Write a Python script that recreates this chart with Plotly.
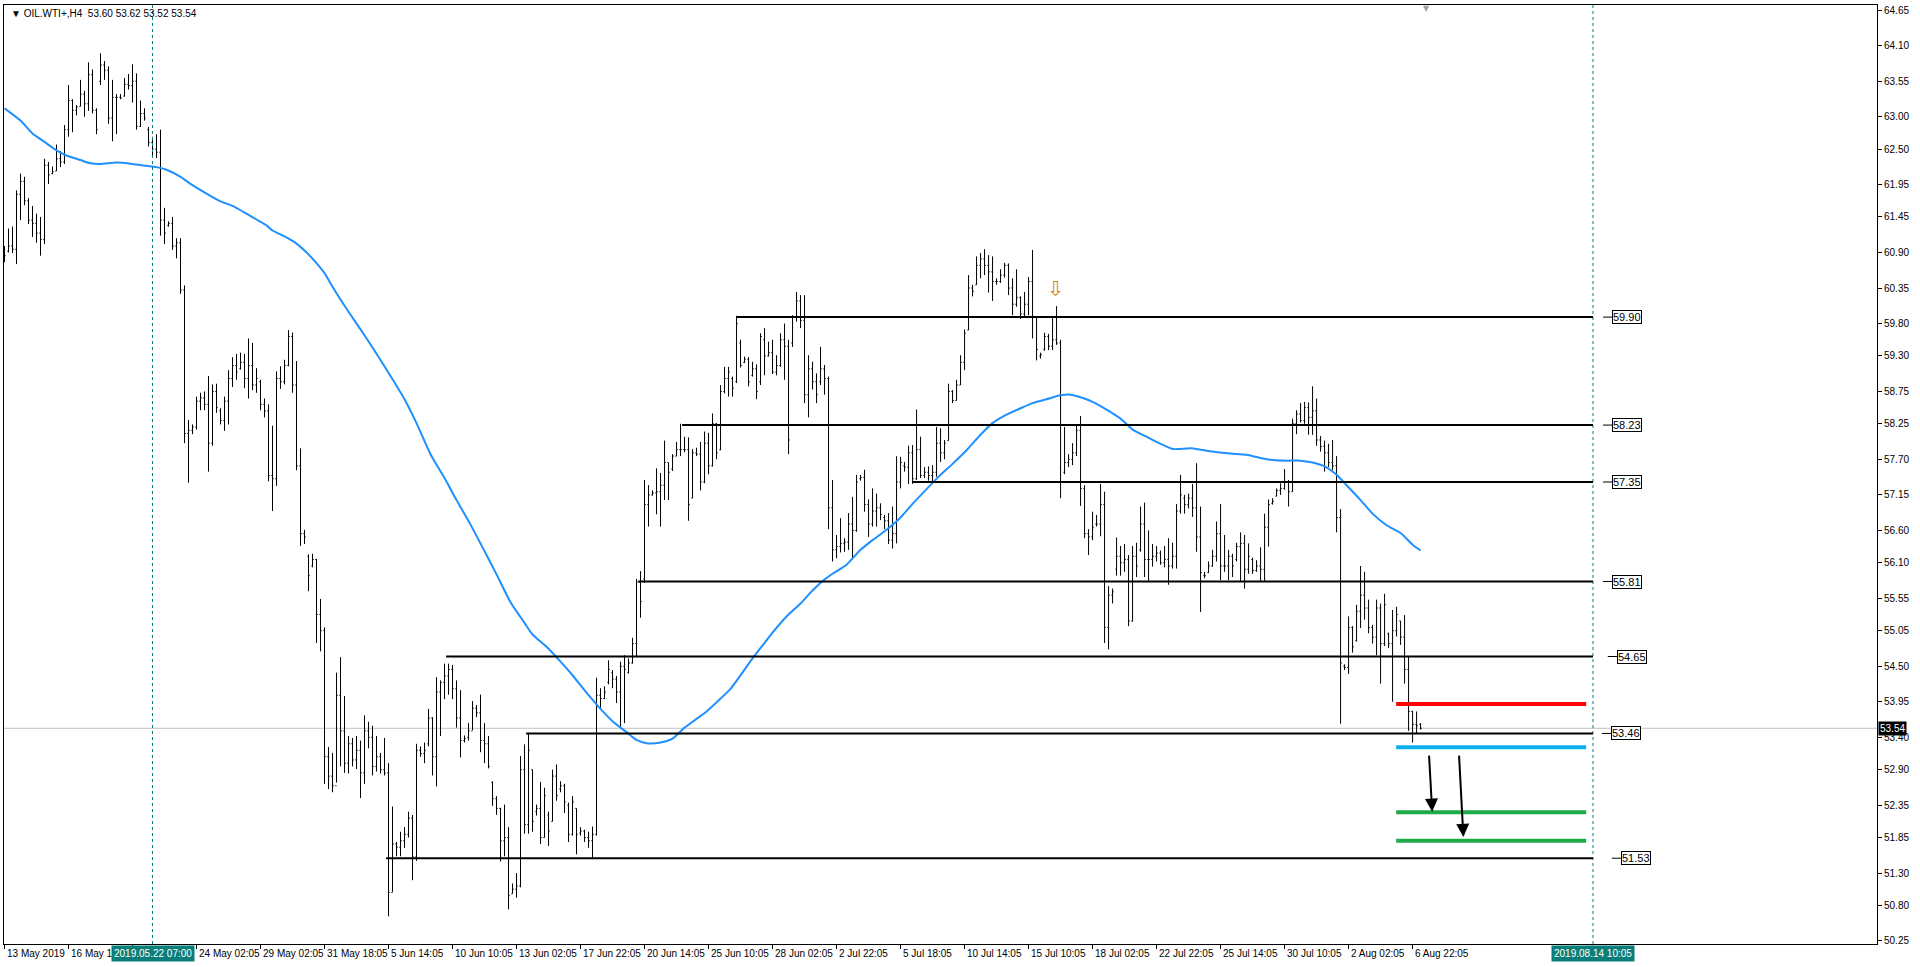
import plotly.graph_objects as go

# ---------------- data ----------------
bar_high = [
    61.00, 61.27, 61.30, 61.86, 62.12, 62.07, 61.74, 61.62, 61.50, 61.45,
    62.35, 62.30, 62.23, 62.57, 62.47, 62.87, 63.49, 63.27, 63.18, 63.57,
    63.40, 63.84, 63.73, 63.13, 63.98, 63.86, 63.78, 63.57, 63.35, 63.35,
    63.60, 63.66, 63.81, 63.67, 63.25, 63.13, 62.84, 62.69, 62.73, 62.80,
    61.59, 61.38, 61.45, 61.12, 61.12, 60.39, 58.31, 58.24, 58.67, 58.73,
    58.75, 58.99, 58.86, 58.87, 58.49, 58.67, 59.08, 59.28, 59.33, 59.35,
    59.33, 59.57, 59.50, 59.11, 58.93, 58.64, 58.55, 58.22, 59.06, 59.14,
    59.24, 59.70, 59.66, 59.22, 57.87, 56.61, 56.23, 56.24, 56.16, 55.54,
    55.10, 53.25, 53.16, 54.40, 54.64, 54.04, 53.42, 53.39, 53.42, 53.35,
    53.74, 53.64, 53.58, 53.42, 53.16, 53.39, 53.00, 52.33, 51.78, 51.94,
    52.01, 52.25, 52.20, 53.30, 53.26, 53.32, 53.84, 53.71, 54.33, 54.28,
    54.54, 54.54, 54.52, 54.28, 54.13, 53.43, 53.62, 53.96, 53.90, 54.06,
    53.62, 53.42, 52.72, 52.49, 52.31, 52.36, 52.01, 51.14, 51.30, 53.11,
    53.29, 53.47, 52.90, 52.36, 52.71, 52.62, 52.25, 52.90, 52.98, 52.72,
    52.68, 52.39, 52.49, 52.30, 52.01, 51.97, 51.94, 52.02, 54.32, 54.16,
    54.19, 54.59, 54.44, 54.35, 54.57, 54.67, 54.62, 54.94, 55.85, 55.97,
    57.38, 57.30, 57.22, 57.56, 57.49, 57.99, 57.65, 57.78, 57.97, 58.25,
    58.05, 58.04, 57.86, 57.88, 57.97, 58.13, 58.11, 58.41, 58.26, 58.85,
    59.13, 59.13, 58.98, 59.92, 59.55, 59.29, 59.28, 59.21, 59.17, 59.65,
    59.73, 59.52, 59.55, 59.31, 59.65, 59.80, 59.55, 59.93, 60.29, 60.24,
    60.24, 59.31, 59.21, 59.03, 59.44, 59.16, 58.98, 57.38, 56.53, 56.79,
    56.48, 56.87, 57.12, 57.46, 57.46, 57.54, 57.08, 57.25, 57.17, 57.02,
    56.84, 56.87, 56.97, 57.75, 57.74, 57.66, 57.91, 57.92, 58.47, 58.05,
    57.58, 57.59, 57.61, 58.20, 58.18, 58.00, 58.87, 58.77, 58.93, 59.31,
    59.71, 60.55, 60.40, 60.84, 60.89, 60.95, 60.86, 60.84, 60.50, 60.64,
    60.74, 60.73, 60.50, 60.64, 60.22, 60.29, 60.52, 60.94, 59.90, 59.35,
    59.66, 59.64, 59.90, 60.07, 59.55, 58.20, 57.78, 57.95, 58.23, 58.37,
    57.30, 56.62, 56.89, 56.84, 57.32, 57.20, 55.74, 55.70, 56.49, 56.36,
    56.39, 56.22, 56.36, 56.41, 56.97, 57.03, 56.60, 56.39, 56.36, 56.29,
    56.36, 56.48, 56.41, 57.01, 57.46, 57.15, 57.17, 57.32, 57.64, 56.97,
    55.96, 56.12, 56.30, 56.74, 57.01, 56.53, 56.30, 56.24, 56.41, 56.57,
    56.53, 56.40, 56.18, 56.14, 56.34, 56.86, 57.08, 57.10, 57.25, 57.33,
    57.55, 57.38, 58.33, 58.46, 58.57, 58.59, 58.58, 58.83, 58.64, 58.06,
    57.99, 57.94, 58.00, 57.75, 56.93, 54.53, 55.27, 55.12, 55.45, 56.05,
    55.96, 55.53, 55.14, 55.53, 55.47, 55.62, 55.02, 55.37, 55.42, 55.20,
    55.29, 54.65, 53.81, 53.80, 53.62,
]
bar_low = [
    60.75, 60.90, 60.89, 60.72, 61.40, 61.63, 61.34, 61.14, 61.05, 60.85,
    61.03, 61.96, 62.11, 62.16, 62.22, 62.27, 62.69, 62.76, 63.02, 63.16,
    63.00, 63.09, 63.05, 62.73, 63.49, 63.57, 62.89, 62.62, 62.73, 63.27,
    63.31, 63.42, 63.22, 62.80, 62.84, 62.94, 62.54, 62.40, 62.36, 61.16,
    61.03, 61.30, 60.94, 60.81, 60.26, 57.95, 57.34, 58.09, 58.16, 58.46,
    58.46, 57.51, 57.91, 58.42, 58.24, 58.14, 58.24, 58.82, 58.93, 59.09,
    58.80, 58.64, 58.77, 58.73, 58.46, 58.35, 57.36, 56.90, 57.29, 58.79,
    58.86, 59.14, 58.73, 57.53, 56.36, 56.39, 55.66, 56.03, 54.86, 54.73,
    52.68, 52.60, 52.55, 52.70, 52.95, 52.85, 52.84, 52.95, 52.91, 52.46,
    52.68, 53.23, 52.81, 52.87, 52.84, 52.81, 50.63, 51.01, 51.56, 51.56,
    51.69, 51.85, 51.19, 51.49, 53.10, 53.00, 53.26, 52.81, 52.64, 53.42,
    53.99, 54.06, 53.99, 53.55, 53.09, 53.32, 53.35, 53.51, 53.71, 53.17,
    53.00, 52.92, 52.34, 52.20, 51.48, 51.56, 50.74, 50.98, 50.92, 51.08,
    51.91, 51.91, 51.94, 52.19, 51.75, 51.85, 51.72, 52.10, 52.42, 52.55,
    52.23, 51.78, 51.88, 51.59, 51.88, 51.78, 51.69, 51.53, 51.88, 53.84,
    53.99, 54.22, 54.16, 53.93, 53.56, 53.62, 54.39, 54.54, 54.64, 55.25,
    55.79, 56.66, 57.14, 56.85, 56.66, 57.07, 57.07, 57.52, 57.75, 57.75,
    57.81, 56.75, 57.10, 57.75, 57.22, 57.33, 57.47, 57.59, 57.70, 57.84,
    58.72, 58.67, 58.67, 58.88, 59.12, 59.19, 58.83, 58.98, 58.63, 58.85,
    59.00, 59.29, 59.02, 59.00, 59.13, 58.93, 57.78, 59.44, 59.83, 59.73,
    58.57, 58.35, 58.78, 58.57, 58.85, 58.70, 56.62, 56.12, 56.17, 56.26,
    56.27, 56.30, 56.17, 56.58, 57.37, 56.89, 56.50, 56.66, 56.66, 56.76,
    56.62, 56.39, 56.32, 56.40, 57.25, 57.51, 57.32, 57.32, 57.38, 57.41,
    57.41, 57.37, 57.35, 57.43, 57.66, 57.70, 57.99, 58.57, 58.61, 58.85,
    59.08, 59.70, 60.22, 60.40, 60.50, 60.55, 60.28, 60.15, 60.40, 60.43,
    60.51, 60.24, 59.93, 60.06, 59.87, 59.90, 59.93, 59.57, 59.23, 59.26,
    59.38, 59.39, 59.39, 59.47, 57.10, 57.47, 57.58, 57.61, 57.75, 56.98,
    56.48, 56.22, 56.45, 56.66, 56.51, 54.86, 54.76, 55.47, 55.90, 55.90,
    55.96, 55.12, 55.19, 55.88, 56.27, 55.88, 55.82, 56.04, 56.12, 56.07,
    56.03, 55.76, 56.01, 56.01, 56.86, 56.86, 56.94, 56.81, 56.27, 55.34,
    55.86, 55.94, 56.04, 56.12, 55.83, 55.96, 55.83, 55.88, 56.12, 55.82,
    55.70, 55.93, 55.93, 55.96, 55.82, 55.82, 56.35, 57.00, 57.13, 57.15,
    57.23, 56.97, 57.20, 58.09, 58.27, 58.25, 58.08, 58.08, 57.91, 57.82,
    57.51, 57.58, 57.53, 56.57, 53.61, 54.44, 54.38, 54.71, 54.88, 55.09,
    55.22, 55.01, 54.85, 54.67, 54.23, 54.81, 54.78, 53.95, 54.96, 54.83,
    54.23, 53.50, 53.32, 53.45, 53.52,
]
bar_open = [
    60.80, 60.92, 61.00, 60.95, 61.80, 62.00, 61.70, 61.40, 61.35, 61.20,
    61.10, 62.25, 62.12, 62.16, 62.35, 62.30, 62.80, 63.25, 63.10, 63.16,
    63.35, 63.20, 63.65, 63.10, 63.55, 63.80, 63.72, 62.98, 63.30, 63.30,
    63.32, 63.50, 63.48, 63.55, 62.85, 63.05, 62.80, 62.60, 62.50, 62.45,
    61.40, 61.32, 61.35, 61.00, 61.05, 60.32, 58.10, 58.15, 58.20, 58.60,
    58.65, 58.55, 57.95, 58.75, 58.45, 58.30, 58.60, 58.95, 59.15, 59.10,
    59.20, 58.95, 59.15, 58.85, 58.90, 58.55, 58.45, 57.45, 57.40, 58.95,
    58.90, 59.15, 59.60, 58.85, 57.60, 56.55, 56.20, 56.05, 56.15, 55.30,
    55.05, 53.10, 52.80, 52.65, 54.05, 53.50, 53.00, 53.30, 53.05, 53.20,
    52.85, 53.50, 53.40, 52.95, 53.10, 52.90, 52.85, 51.00, 51.75, 51.70,
    51.80, 51.90, 52.15, 51.55, 53.20, 53.15, 53.30, 53.70, 53.10, 54.10,
    54.25, 54.35, 54.45, 54.15, 53.70, 53.35, 53.40, 53.50, 53.85, 53.78,
    53.35, 53.30, 52.70, 52.45, 52.30, 51.80, 51.85, 50.98, 51.05, 51.10,
    52.90, 52.05, 52.90, 52.25, 52.30, 51.85, 52.20, 52.10, 52.80, 52.60,
    52.65, 52.35, 51.90, 52.30, 51.92, 51.95, 51.85, 51.80, 51.90, 54.05,
    54.00, 54.25, 54.40, 54.30, 54.10, 54.50, 54.40, 54.55, 54.85, 55.80,
    55.85, 57.00, 57.15, 57.18, 57.20, 57.30, 57.65, 57.55, 57.75, 57.85,
    57.85, 57.85, 57.10, 57.80, 57.78, 57.35, 57.95, 57.60, 58.25, 57.85,
    58.75, 58.95, 58.95, 58.90, 59.50, 59.20, 59.25, 59.00, 59.10, 58.90,
    59.55, 59.30, 59.35, 59.05, 59.15, 59.55, 59.45, 59.50, 59.90, 60.15,
    59.85, 58.70, 59.10, 58.90, 58.90, 59.10, 58.95, 56.95, 56.30, 56.35,
    56.40, 56.42, 56.70, 56.60, 57.40, 57.42, 57.00, 56.70, 56.90, 56.95,
    56.80, 56.75, 56.45, 56.55, 57.35, 57.60, 57.58, 57.80, 57.40, 57.85,
    57.45, 57.50, 57.45, 57.50, 57.95, 57.80, 57.99, 58.75, 58.61, 58.85,
    59.20, 59.70, 60.35, 60.40, 60.70, 60.80, 60.70, 60.60, 60.45, 60.45,
    60.55, 60.70, 60.35, 60.10, 60.20, 59.95, 60.10, 60.45, 59.90, 59.30,
    59.40, 59.60, 59.45, 59.55, 59.50, 57.50, 57.65, 57.70, 57.80, 58.15,
    57.25, 56.55, 56.50, 56.70, 56.70, 57.00, 55.10, 55.60, 56.00, 56.20,
    56.10, 56.15, 55.20, 56.20, 56.30, 56.70, 56.15, 56.15, 56.20, 56.25,
    56.10, 56.15, 56.05, 56.20, 56.90, 57.10, 57.00, 57.10, 56.95, 56.50,
    55.90, 55.95, 56.05, 56.20, 56.55, 56.05, 56.05, 56.20, 56.15, 56.35,
    56.40, 56.00, 56.15, 55.98, 56.05, 56.00, 56.65, 57.02, 57.13, 57.22,
    57.25, 57.35, 57.20, 58.25, 58.40, 58.30, 58.50, 58.35, 58.45, 58.00,
    57.90, 57.80, 57.65, 57.60, 56.80, 54.50, 54.48, 55.10, 54.90, 55.35,
    55.60, 55.40, 55.10, 54.95, 55.40, 54.85, 55.00, 54.85, 55.05, 55.20,
    54.95, 54.45, 53.80, 53.60, 53.60,
]
bar_close = [
    60.85, 61.00, 60.95, 61.80, 62.00, 61.70, 61.40, 61.35, 61.20, 61.10,
    62.25, 62.10, 62.15, 62.35, 62.30, 62.80, 63.25, 63.10, 63.15, 63.35,
    63.20, 63.65, 63.10, 62.80, 63.80, 63.72, 62.98, 63.30, 63.30, 63.29,
    63.50, 63.48, 63.55, 62.85, 63.05, 62.98, 62.60, 62.50, 62.45, 61.40,
    61.20, 61.35, 61.00, 61.05, 60.32, 58.10, 58.15, 58.20, 58.60, 58.65,
    58.55, 57.95, 58.75, 58.50, 58.30, 58.60, 58.95, 59.15, 59.05, 59.20,
    58.95, 59.15, 58.85, 58.95, 58.55, 58.45, 57.45, 57.40, 58.95, 58.90,
    59.15, 59.60, 58.85, 57.60, 56.55, 56.50, 55.90, 56.15, 55.30, 55.05,
    53.10, 52.80, 52.65, 54.05, 53.50, 53.00, 53.30, 53.05, 53.20, 52.85,
    53.50, 53.40, 52.95, 53.10, 52.90, 52.85, 51.00, 51.75, 51.70, 51.80,
    51.90, 52.15, 51.55, 53.20, 53.15, 53.20, 53.70, 53.10, 54.10, 54.25,
    54.35, 54.45, 54.15, 53.70, 53.35, 53.38, 53.50, 53.85, 53.78, 53.35,
    53.30, 52.95, 52.45, 52.30, 51.80, 51.85, 50.95, 51.05, 51.10, 52.90,
    52.05, 53.20, 52.10, 52.30, 51.85, 52.50, 51.95, 52.80, 52.50, 52.65,
    52.40, 51.90, 52.40, 51.90, 51.95, 51.85, 51.80, 51.90, 54.05, 54.00,
    54.10, 54.45, 54.30, 54.10, 54.50, 54.45, 54.55, 54.85, 55.80, 55.50,
    57.00, 57.15, 57.18, 57.20, 57.30, 57.65, 57.50, 57.75, 57.85, 57.85,
    57.85, 57.00, 57.80, 57.78, 57.35, 57.95, 57.60, 58.25, 57.80, 58.75,
    58.95, 59.05, 58.80, 59.80, 59.15, 59.25, 58.90, 59.10, 58.75, 59.60,
    59.30, 59.35, 59.05, 59.15, 59.55, 59.45, 58.00, 59.90, 60.15, 59.85,
    58.70, 59.10, 58.90, 58.70, 59.10, 58.95, 56.95, 56.30, 56.35, 56.40,
    56.42, 56.70, 56.60, 57.35, 57.42, 57.00, 56.70, 56.90, 56.95, 56.85,
    56.75, 56.45, 56.55, 57.35, 57.65, 57.58, 57.80, 57.40, 57.85, 57.45,
    57.50, 57.45, 57.50, 57.95, 57.80, 57.95, 58.75, 58.61, 58.85, 59.20,
    59.65, 60.35, 60.30, 60.70, 60.80, 60.70, 60.60, 60.45, 60.45, 60.55,
    60.70, 60.35, 60.10, 60.20, 59.95, 60.10, 60.45, 59.90, 59.40, 59.32,
    59.60, 59.45, 59.55, 59.50, 57.35, 57.65, 57.70, 57.80, 58.15, 57.25,
    56.55, 56.50, 56.65, 56.70, 57.00, 55.10, 55.60, 55.65, 56.20, 56.10,
    56.15, 55.20, 56.20, 56.05, 56.70, 56.15, 56.15, 56.20, 56.25, 56.10,
    56.15, 56.05, 56.20, 56.90, 57.15, 57.00, 57.10, 56.95, 56.50, 55.95,
    55.90, 56.05, 56.20, 56.55, 56.05, 56.05, 56.20, 56.05, 56.35, 56.40,
    56.00, 56.20, 55.98, 56.05, 56.00, 56.65, 57.00, 57.05, 57.22, 57.25,
    57.35, 57.20, 58.25, 58.40, 58.30, 58.50, 58.35, 58.45, 58.00, 57.90,
    57.80, 57.65, 57.60, 56.80, 54.55, 54.48, 55.10, 54.80, 55.35, 55.60,
    55.40, 55.10, 54.95, 55.40, 54.85, 55.45, 54.85, 55.05, 55.30, 54.95,
    54.45, 53.80, 53.60, 53.58, 53.54,
]
bar_index = list(range(len(bar_close)))

ma_index = [0, 4, 7, 10, 13, 15.5, 19, 21.5, 24, 28, 32, 35.5, 38, 40.5, 44, 46.5,
            50.5, 54, 57, 60.5, 63, 65.5, 67, 70, 72.5, 75, 77.5, 80, 82, 85.5, 89,
            92, 96.5, 100, 103, 106.5, 110, 113, 116.5, 120, 123, 126.5, 130, 132,
            135.5, 139, 142, 145.5, 149, 152, 155.5, 158, 160.5, 164, 167, 170, 172,
            175.5, 179, 181.5, 187, 190, 192, 195.5, 199, 202, 205, 207, 210.5, 214,
            217, 220.5, 224, 227, 230.5, 234, 237, 240.5, 244, 247, 250.5, 254, 257,
            260.5, 264, 266.5, 269, 272, 275.5, 279, 282, 285.5, 289, 292, 296.5,
            299, 302, 306.5, 310.5, 314, 317, 320.5, 324, 327, 330, 333, 335.5, 339,
            342, 345.5, 349, 352, 354]
ma_value = [63.13, 62.94, 62.74, 62.61, 62.48, 62.40, 62.33, 62.28, 62.27, 62.29,
            62.27, 62.24, 62.22, 62.18, 62.07, 61.96, 61.81, 61.69, 61.62, 61.50,
            61.41, 61.32, 61.24, 61.15, 61.06, 60.93, 60.77, 60.58, 60.37, 60.03,
            59.71, 59.43, 58.99, 58.63, 58.26, 57.78, 57.41, 57.07, 56.69, 56.28,
            55.92, 55.49, 55.17, 54.99, 54.80, 54.57, 54.36, 54.09, 53.84, 53.65,
            53.48, 53.36, 53.31, 53.32, 53.38, 53.55, 53.64, 53.80, 54.00, 54.15,
            54.62, 54.86, 55.02, 55.27, 55.47, 55.67, 55.84, 55.93, 56.07, 56.30,
            56.45, 56.61, 56.80, 57.01, 57.24, 57.46, 57.63, 57.84, 58.08, 58.26,
            58.39, 58.49, 58.57, 58.63, 58.69, 58.70, 58.66, 58.59, 58.47, 58.33,
            58.16, 58.05, 57.94, 57.86, 57.87, 57.85, 57.82, 57.79, 57.77, 57.72,
            57.69, 57.68, 57.68, 57.65, 57.59, 57.46, 57.30, 57.07, 56.86, 56.68,
            56.56, 56.38, 56.29]

level_values = [59.90, 58.23, 57.35, 55.81, 54.65, 53.46, 51.53]
level_start = [183, 169.4, 227, 158.4, 110.4, 130.4, 95.4]
level_label_x = [401.9, 401.9, 401.9, 401.9, 403.1, 401.6, 404.1]

zone_values = [53.915, 53.246, 52.24, 51.80]
zone_colors = ["#FF0000", "#0FB0EE", "#1FAA48", "#1FAA48"]
zone_start, zone_end = 347.9, 395.4

arrow_tail_x = [356.1, 363.6]
arrow_tail_y = [53.14, 53.14]
arrow_head_x = [356.9, 364.7]
arrow_head_y = [52.25, 51.86]

marker_lines = [37.0, 397.1]
marker_texts = ["2019.05.22 07:00", "2019.08.14 10:05"]

x_tick_idx = [0, 16, 32, 48, 64, 80, 96, 112, 128, 144, 160, 176, 192, 208, 224,
              240, 256, 272, 288, 304, 320, 336, 352]
# the label at index 32 is hidden behind the highlighted date box in the reference
x_tick_text = ["13 May 2019", "16 May 14", "", "24 May 02:05",
               "29 May 02:05", "31 May 18:05", "5 Jun 14:05", "10 Jun 10:05",
               "13 Jun 02:05", "17 Jun 22:05", "20 Jun 14:05", "25 Jun 10:05",
               "28 Jun 02:05", "2 Jul 22:05", "5 Jul 18:05", "10 Jul 14:05",
               "15 Jul 10:05", "18 Jul 02:05", "22 Jul 22:05", "25 Jul 14:05",
               "30 Jul 10:05", "2 Aug 02:05", "6 Aug 22:05"]

y_tick_vals = [64.65, 64.10, 63.55, 63.00, 62.50, 61.95, 61.45, 60.90, 60.35, 59.80,
               59.30, 58.75, 58.25, 57.70, 57.15, 56.60, 56.10, 55.55, 55.05, 54.50,
               53.95, 53.40, 52.90, 52.35, 51.85, 51.30, 50.80, 50.25]
y_tick_text = ["%.2f" % v for v in y_tick_vals]

current_price = 53.54
header_text = "▼\u00a0OIL.WTI+,H4\u00a0\u00a053.60\u00a053.62\u00a053.52\u00a053.54"

FONT = "Liberation Sans"
TEAL = "#0A7F7A"

# ---------------- figure ----------------
fig = go.Figure()

fig.add_trace(go.Ohlc(
    x=bar_index, open=bar_open, high=bar_high, low=bar_low, close=bar_close,
    increasing=dict(line=dict(color="black", width=1)),
    decreasing=dict(line=dict(color="black", width=1)),
    tickwidth=0.3, hoverinfo="skip", showlegend=False,
))

fig.add_trace(go.Scatter(
    x=ma_index, y=ma_value, mode="lines",
    line=dict(color="#1E90FF", width=2, shape="spline", smoothing=0.6),
    hoverinfo="skip", showlegend=False,
))

shapes = []
shapes.append(dict(type="line", xref="paper", yref="y", x0=0, x1=1,
                   y0=current_price, y1=current_price,
                   line=dict(color="#C0C0C0", width=1), layer="below"))
for mx in marker_lines:
    shapes.append(dict(type="line", xref="x", yref="paper", x0=mx, x1=mx, y0=0, y1=1,
                       line=dict(color=TEAL, width=1, dash="3px,3px")))
for v, s in zip(level_values, level_start):
    shapes.append(dict(type="line", xref="x", yref="y", x0=s, x1=marker_lines[1],
                       y0=v, y1=v, line=dict(color="black", width=2)))
for v, c in zip(zone_values, zone_colors):
    shapes.append(dict(type="line", xref="x", yref="y", x0=zone_start, x1=zone_end,
                       y0=v, y1=v, line=dict(color=c, width=4)))
for v, lx in zip(level_values, level_label_x):
    shapes.append(dict(type="line", xref="x", yref="y", x0=lx - 2.3, x1=lx,
                       y0=v, y1=v, line=dict(color="black", width=1)))

annotations = []
for v, lx in zip(level_values, level_label_x):
    annotations.append(dict(x=lx, y=v, xref="x", yref="y", text="%.2f" % v,
                            showarrow=False, xanchor="left", yanchor="middle",
                            font=dict(family=FONT, size=11, color="black"),
                            bgcolor="white", bordercolor="black", borderwidth=1,
                            borderpad=0))
for tx, ty, hx, hy in zip(arrow_tail_x, arrow_tail_y, arrow_head_x, arrow_head_y):
    annotations.append(dict(x=hx, y=hy, ax=tx, ay=ty, xref="x", yref="y",
                            axref="x", ayref="y", text="", showarrow=True,
                            arrowhead=2, arrowsize=1.3, arrowwidth=2,
                            arrowcolor="black"))
for xi, t in zip(x_tick_idx, x_tick_text):
    if not t:
        continue
    annotations.append(dict(x=xi, y=0, xref="x", yref="paper", text=t,
                            showarrow=False, xanchor="left", yanchor="top",
                            xshift=0, yshift=-2,
                            font=dict(family=FONT, size=10, color="black")))
for mx, t in zip(marker_lines, marker_texts):
    annotations.append(dict(x=mx, y=0, xref="x", yref="paper", text=t,
                            showarrow=False, xanchor="center", yanchor="top",
                            yshift=-1, bgcolor=TEAL, borderpad=2,
                            font=dict(family=FONT, size=10, color="white")))
annotations.append(dict(x=1, y=current_price, xref="paper", yref="y",
                        text="%.2f" % current_price, showarrow=False,
                        xanchor="left", yanchor="middle", xshift=1,
                        bgcolor="black", borderpad=1,
                        font=dict(family=FONT, size=10, color="white")))
annotations.append(dict(x=0, y=1, xref="paper", yref="paper", text=header_text,
                        showarrow=False, xanchor="left", yanchor="top",
                        xshift=5, yshift=-1,
                        font=dict(family=FONT, size=10, color="black")))
annotations.append(dict(x=262.8, y=60.33, xref="x", yref="y", text="⇩",
                        showarrow=False, font=dict(family="DejaVu Sans", size=21,
                                                   color="#D08A20")))
annotations.append(dict(x=355.6, y=1, xref="x", yref="paper", text="▼",
                        showarrow=False, yanchor="top", yshift=3,
                        font=dict(family="DejaVu Sans", size=8, color="#A0A0A0")))

fig.update_layout(
    width=1920, height=967,
    margin=dict(l=4, r=43, t=5, b=23),
    paper_bgcolor="white", plot_bgcolor="white",
    showlegend=False,
    shapes=shapes, annotations=annotations,
    xaxis=dict(range=[-0.125, 468.1], rangeslider=dict(visible=False),
               showgrid=False, zeroline=False, showline=True, linecolor="black",
               linewidth=1, mirror=True, ticks="outside", ticklen=4,
               tickcolor="black", tickvals=x_tick_idx, showticklabels=False),
    yaxis=dict(range=[50.203, 64.728], side="right", showgrid=False,
               zeroline=False, showline=True, linecolor="black", linewidth=1,
               mirror=True, ticks="outside", ticklen=4, tickcolor="black",
               tickvals=y_tick_vals, ticktext=y_tick_text, automargin=False,
               tickfont=dict(family=FONT, size=10, color="black")),
)

fig.write_html(
    "out.html",
    config={"displayModeBar": False},
    post_script="document.body.style.margin='0px';document.body.style.overflow='hidden';",
)
